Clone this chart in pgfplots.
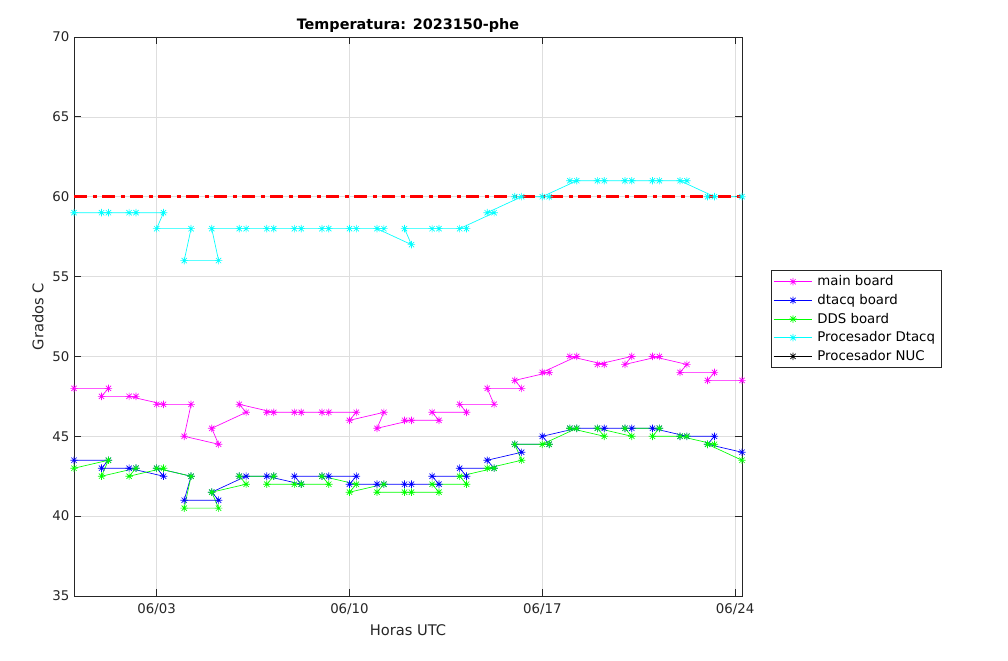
\documentclass[border=0pt]{standalone}
\usepackage{pgfplots}
\pgfplotsset{compat=1.18}
\usepackage{pgfplotstable}
\usepackage{fontspec}
\setmainfont{DejaVu Sans}

\pgfdeclareplotmark{mstar}{%
 \pgfpathmoveto{\pgfpoint{-\pgfplotmarksize}{0pt}}\pgfpathlineto{\pgfpoint{\pgfplotmarksize}{0pt}}%
 \pgfpathmoveto{\pgfpoint{0pt}{-\pgfplotmarksize}}\pgfpathlineto{\pgfpoint{0pt}{\pgfplotmarksize}}%
 \pgfpathmoveto{\pgfpoint{-0.707\pgfplotmarksize}{-0.707\pgfplotmarksize}}\pgfpathlineto{\pgfpoint{0.707\pgfplotmarksize}{0.707\pgfplotmarksize}}%
 \pgfpathmoveto{\pgfpoint{-0.707\pgfplotmarksize}{0.707\pgfplotmarksize}}\pgfpathlineto{\pgfpoint{0.707\pgfplotmarksize}{-0.707\pgfplotmarksize}}%
 \pgfusepathqstroke}

\definecolor{axgray}{rgb}{0.15,0.15,0.15}
\definecolor{mmag}{rgb}{1,0,1}
\definecolor{mblue}{rgb}{0,0,1}
\definecolor{mgreen}{rgb}{0,1,0}
\definecolor{mcyan}{rgb}{0,1,1}
\definecolor{mred}{rgb}{1,0,0}

% t = days since 05/31 00:00 (in the order the samples were plotted)
\pgfplotstableread{
t     main  dtacq dds   proc
0     48.0  43.5  43.0  59
1.25  48.0  43.5  43.5  59
1.0   47.5  43.0  42.5  59
2.25  47.5  43.0  43.0  59
2.0   47.5  43.0  42.5  59
3.25  47.0  42.5  43.0  59
3.0   47.0  43.0  43.0  58
4.25  47.0  42.5  42.5  58
4.0   45.0  41.0  40.5  56
5.25  44.5  41.0  40.5  56
5.0   45.5  41.5  41.5  58
6.25  46.5  42.5  42.0  58
6.0   47.0  42.5  42.5  58
7.25  46.5  42.5  42.5  58
7.0   46.5  42.5  42.0  58
8.25  46.5  42.0  42.0  58
8.0   46.5  42.5  42.0  58
9.25  46.5  42.5  42.0  58
9.0   46.5  42.5  42.5  58
10.25 46.5  42.5  42.0  58
10.0  46.0  42.0  41.5  58
11.25 46.5  42.0  42.0  58
11.0  45.5  42.0  41.5  58
12.25 46.0  42.0  41.5  57
12.0  46.0  42.0  41.5  58
13.25 46.0  42.0  41.5  58
13.0  46.5  42.5  42.0  58
14.25 46.5  42.5  42.0  58
14.0  47.0  43.0  42.5  58
15.25 47.0  43.0  43.0  59
15.0  48.0  43.5  43.0  59
16.25 48.0  44.0  43.5  60
16.0  48.5  44.5  44.5  60
17.25 49.0  44.5  44.5  60
17.0  49.0  45.0  44.5  60
18.25 50.0  45.5  45.5  61
18.0  50.0  45.5  45.5  61
19.25 49.5  45.5  45.0  61
19.0  49.5  45.5  45.5  61
20.25 50.0  45.5  45.0  61
20.0  49.5  45.5  45.5  61
21.25 50.0  45.5  45.5  61
21.0  50.0  45.5  45.0  61
22.25 49.5  45.0  45.0  61
22.0  49.0  45.0  45.0  61
23.25 49.0  45.0  44.5  60
23.0  48.5  44.5  44.5  60
24.25 48.5  44.0  43.5  60
}\datatable

\begin{document}
\begin{tikzpicture}
\useasboundingbox (0,0) rectangle (756pt,495.75pt);
\begin{axis}[
  at={(55.5pt,48.75pt)}, anchor=south west,
  scale only axis, width=501pt, height=419.25pt,
  xmin=0, xmax=24.25, ymin=35, ymax=70,
  xtick={3,10,17,24},
  xticklabels={06/03,06/10,06/17,06/24},
  ytick={35,40,...,70},
  /pgf/number format/assume math mode=true,
  tick align=inside, major tick length=5pt,
  xtick pos=both, ytick pos=both,
  axis line style={axgray, line width=0.6pt},
  tick style={axgray, line width=0.6pt},
  ticklabel style={font=\fontsize{10}{12}\selectfont, text=axgray},
  xticklabel style={yshift=-2pt},
  grid=major, grid style={black!13, line width=0.5pt},
  title={Temperatura: 2023150-phe},
  title style={at={(axis description cs:0.5,1)}, anchor=base, yshift=-0.7pt, font=\fontsize{10.8}{13}\selectfont\bfseries},
  xlabel={Horas UTC},
  xlabel style={at={(axis description cs:0.5,-0.062)}, anchor=center, font=\fontsize{11}{13}\selectfont, text=axgray},
  ylabel={Grados C},
  ylabel style={at={(axis description cs:-0.054,0.5)}, anchor=center, font=\fontsize{11}{13}\selectfont, text=axgray},
  mark size=2.8pt,
  every axis plot/.append style={line width=0.5pt},
  legend cell align=left,
  legend style={at={(axis description cs:1.0434,0.4955)}, anchor=west,
    draw=axgray, line width=0.6pt, font=\fontsize{10}{12}\selectfont,
    inner xsep=1.5pt, inner ysep=1.8pt, row sep=0.9pt,
    nodes={inner xsep=3.5pt}},
  legend image code/.code={\draw[mark repeat=2,mark phase=2,#1] plot coordinates {(0pt,0pt) (14.5pt,0pt) (29pt,0pt)};},
]
\addplot[mmag, mark=mstar] table[x=t, y=main] {\datatable};
\addlegendentry{main board}
\addplot[mblue, mark=mstar] table[x=t, y=dtacq] {\datatable};
\addlegendentry{dtacq board}
\addplot[mgreen, mark=mstar] table[x=t, y=dds] {\datatable};
\addlegendentry{DDS board}
\addplot[mcyan, mark=mstar] table[x=t, y=proc] {\datatable};
\addlegendentry{Procesador Dtacq}
\addlegendimage{black, mark=mstar, line width=0.5pt}
\addlegendentry{Procesador NUC}
\addplot[mred, line width=2pt, dash pattern=on 10pt off 4pt on 3pt off 4pt, forget plot] coordinates {(0,60) (24.25,60)};
\end{axis}
\end{tikzpicture}
\end{document}
